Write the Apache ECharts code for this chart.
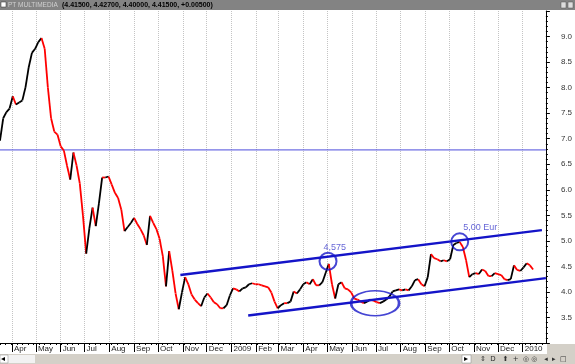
<!DOCTYPE html>
<html><head><meta charset="utf-8">
<script src="https://cdn.jsdelivr.net/npm/echarts@6/dist/echarts.min.js"></script>
<style>html,body{margin:0;padding:0;background:#fff}#c{width:575px;height:364px}</style>
</head><body><div id="c"></div>
<script>
// ---- data ----
const axisStart = '2008-03-17';
const axisEnd = '2010-01-30';
const sampleStart = '2008-03-17';
const sampleStepDays = 4;
const closes = [
 6.96, 7.40, 7.52, 7.59, 7.83, 7.67, 7.71, 7.75, 8.01, 8.40,
 8.68, 8.76, 8.89, 8.97, 8.76, 8.00, 7.40, 7.14, 7.08, 6.85,
 6.77, 6.47, 6.20, 6.73, 6.47, 6.12, 5.49, 4.75, 5.25, 5.65,
 5.29, 5.74, 6.24, 6.24, 6.26, 6.10, 5.94, 5.84, 5.61, 5.19,
 5.27, 5.35, 5.45, 5.33, 5.23, 5.11, 4.92, 5.49, 5.35, 5.23,
 5.04, 4.70, 4.11, 4.80, 4.41, 3.97, 3.66, 3.99, 4.29, 4.15,
 3.95, 3.85, 3.78, 3.72, 3.89, 3.97, 3.89, 3.80, 3.76, 3.68,
 3.68, 3.74, 3.93, 4.07, 4.05, 4.01, 4.07, 4.09, 4.15, 4.17,
 4.15, 4.15, 4.13, 4.11, 4.09, 3.99, 3.81, 3.68, 3.74, 3.78,
 3.78, 3.81, 4.01, 3.97, 4.05, 4.15, 4.19, 4.15, 4.25, 4.13,
 4.13, 4.19, 4.37, 4.55, 4.15, 3.87, 4.15, 4.19, 4.07, 4.05,
 3.99, 3.87, 3.85, 3.81, 3.78, 3.81, 3.85, 3.83, 3.80, 3.78,
 3.81, 3.85, 3.91, 4.01, 4.03, 4.05, 4.03, 4.05, 4.03, 4.11,
 4.23, 4.25, 4.15, 4.11, 4.29, 4.74, 4.66, 4.64, 4.60, 4.62,
 4.60, 4.64, 4.92, 4.96, 4.98, 4.88, 4.62, 4.29, 4.35, 4.37,
 4.35, 4.44, 4.41, 4.31, 4.31, 4.37, 4.35, 4.33, 4.25, 4.23,
 4.25, 4.52, 4.43, 4.41, 4.48, 4.56, 4.52, 4.44
];
const monthNames = ['Jan','Feb','Mar','Apr','May','Jun','Jul','Aug','Sep','Oct','Nov','Dec'];
const yMin = 3, yMax = 9.5, yStep = 0.5;
const resistanceLevel = 6.78;
const upperTrend = [['2008-10-29', 4.33], ['2010-01-25', 5.21]];
const lowerTrend = [['2009-01-22', 3.54], ['2010-01-30', 4.27]];
const circleMarks = [['2009-05-02', 4.60, '4,575'], ['2009-10-14', 4.98, '5,00 Eur']];
const ellipseMark = ['2009-06-30', 3.78];
const titleName = 'PT MULTIMEDIA';
const titleQuote = '(4.41500, 4.42700, 4.40000, 4.41500, +0.00500)';

// ---- helpers ----
const DAY = 86400000;
function toUTC(s){ const p = s.split('-').map(Number); return Date.UTC(p[0], p[1]-1, p[2]); }
const t0 = toUTC(axisStart);
function dayIndex(s){ return Math.round((toUTC(s) - t0) / DAY); }
const cats = [];
for (let t = t0; t <= toUTC(axisEnd); t += DAY) {
  const d = new Date(t);
  cats.push(d.getUTCFullYear() + '-' + String(d.getUTCMonth()+1).padStart(2,'0') + '-' + String(d.getUTCDate()).padStart(2,'0'));
}
const isMonthStart = (i, v) => v.slice(8) === '01';
const isWeekTick = (i, v) => new Date(toUTC(v)).getUTCDay() === 1 && v.slice(8) !== '01';
const off = dayIndex(sampleStart);
const priceData = closes.map((v, i) => [off + i*sampleStepDays, v,
  off + Math.max(0, i-1)*sampleStepDays, closes[Math.max(0, i-1)]]);

const FONT = 'Liberation Sans, Arial, sans-serif';
const chart = echarts.init(document.getElementById('c'), null, {renderer: 'canvas'});
chart.setOption({
  animation: false,
  backgroundColor: '#ffffff',
  grid: {left: 0, right: 29, top: 11, bottom: 21, containLabel: false},
  xAxis: [{
    type: 'category', data: cats, boundaryGap: false,
    axisLine: {show: true, lineStyle: {color: '#000', width: 1}},
    axisTick: {show: true, length: 9, interval: isMonthStart, lineStyle: {color: '#000'}},
    axisLabel: {show: true, interval: isMonthStart, hideOverlap: false,
      align: 'left', padding: [0,0,0,2], margin: 2, fontSize: 8, fontFamily: FONT, color: '#222',
      formatter: v => { const m = +v.slice(5,7); return m === 1 ? v.slice(0,4) : monthNames[m-1]; }},
    splitLine: {show: true, interval: isMonthStart, lineStyle: {color: '#c4c4c4', type: 'dotted', width: 1}}
  }, {
    type: 'category', data: cats, boundaryGap: false, position: 'bottom',
    axisLine: {show: false},
    axisTick: {show: true, length: 2, interval: isWeekTick, lineStyle: {color: '#000'}},
    axisLabel: {show: false}, splitLine: {show: false}
  }],
  yAxis: {
    type: 'value', position: 'right', min: yMin, max: yMax, interval: yStep,
    axisLine: {show: true, lineStyle: {color: '#000', width: 1}},
    axisTick: {show: true, length: 4, lineStyle: {color: '#000'}},
    minorTick: {show: true, splitNumber: 5, length: 2, lineStyle: {color: '#000'}},
    splitLine: {show: false},
    axisLabel: {margin: 15, fontSize: 8, fontFamily: FONT, color: '#333',
      formatter: v => (v <= yMin || v >= yMax) ? '' : v.toFixed(1)}
  },
  series: [
    {
      type: 'line', name: 'level', symbol: 'none', silent: true,
      data: [[0, resistanceLevel], [cats.length-1, resistanceLevel]],
      lineStyle: {color: '#4c4cdc', width: 1}, z: 2
    },
    {
      type: 'custom', name: 'price', xAxisIndex: 0,
      data: priceData, encode: {x: 0, y: 1},
      renderItem: function(params, api) {
        const p1 = api.coord([api.value(2), api.value(3)]);
        const p2 = api.coord([api.value(0), api.value(1)]);
        const up = api.value(1) > api.value(3);
        return {type: 'line', shape: {x1: p1[0], y1: p1[1], x2: p2[0], y2: p2[1]},
          style: {stroke: up ? '#000000' : '#ff0000', lineWidth: 1.8}};
      }, z: 3
    },
    {
      type: 'line', name: 'upper', symbol: 'none', silent: true,
      data: upperTrend.map(p => [dayIndex(p[0]), p[1]]),
      lineStyle: {color: '#1414c8', width: 2.5}, z: 4
    },
    {
      type: 'line', name: 'lower', symbol: 'none', silent: true,
      data: lowerTrend.map(p => [dayIndex(p[0]), p[1]]),
      lineStyle: {color: '#1414c8', width: 2.5}, z: 4
    },
    {
      type: 'scatter', name: 'circles', symbol: 'circle', symbolSize: 17, z: 5,
      itemStyle: {color: 'rgba(0,0,0,0)', borderColor: '#1616c8', borderWidth: 2},
      data: circleMarks.map((c, k) => ({value: [dayIndex(c[0]), c[1]],
        label: {show: true, formatter: c[2], position: k === 0 ? [5, -9] : [13, -9],
          color: '#3c3ccc', fontSize: 9, fontFamily: FONT}}))
    },
    {
      type: 'scatter', name: 'ellipse', symbol: 'circle', symbolSize: [48, 25], z: 5,
      itemStyle: {color: 'rgba(0,0,0,0)', borderColor: '#1616c8', borderWidth: 2},
      data: [[dayIndex(ellipseMark[0]), ellipseMark[1]]]
    }
  ],
  graphic: [
    {type: 'rect', shape: {x: 0, y: 0, width: 575, height: 10}, style: {fill: '#838383'}, z: 10},
    {type: 'rect', shape: {x: 1, y: 2, width: 5, height: 5}, style: {fill: '#fff', stroke: '#333', lineWidth: 0.5}, z: 11},
    {type: 'text', x: 8, y: 5, style: {text: titleName, fill: '#d0d0d0', font: '6.5px ' + FONT, verticalAlign: 'middle'}, z: 11},
    {type: 'text', x: 62, y: 5, style: {text: titleQuote, fill: '#000', font: 'bold 7px ' + FONT, verticalAlign: 'middle'}, z: 11},
    {type: 'rect', shape: {x: 561, y: 2, width: 5, height: 6}, style: {fill: '#ddd', stroke: '#555', lineWidth: 0.5}, z: 11},
    {type: 'rect', shape: {x: 568, y: 2, width: 5, height: 6}, style: {fill: '#ddd', stroke: '#555', lineWidth: 0.5}, z: 11},
    {type: 'rect', shape: {x: 547, y: 344, width: 28, height: 10}, style: {fill: '#d4d0c8'}, z: 10},
    {type: 'rect', shape: {x: 0, y: 354, width: 575, height: 10}, style: {fill: '#d4d0c8'}, z: 10},
    {type: 'rect', shape: {x: 8, y: 355, width: 27, height: 8}, style: {fill: '#f2f2f2'}, z: 11},
    {type: 'rect', shape: {x: 0, y: 355, width: 8, height: 8}, style: {fill: '#fff', stroke: '#888', lineWidth: 0.5}, z: 11},
    {type: 'text', x: 1, y: 359, style: {text: '◂', fill: '#000', font: '8px DejaVu Sans', verticalAlign: 'middle'}, z: 12},
    {type: 'rect', shape: {x: 462, y: 355, width: 9, height: 8}, style: {fill: '#fff', stroke: '#888', lineWidth: 0.5}, z: 11},
    {type: 'text', x: 464, y: 359, style: {text: '▸', fill: '#000', font: '8px DejaVu Sans', verticalAlign: 'middle'}, z: 12},
    {type: 'text', x: 480, y: 359, style: {text: '⇕  D   ⬆  +  ◎ ◎   ◂  ▸  □', fill: '#333', font: '7px DejaVu Sans', verticalAlign: 'middle'}, z: 12}
  ]
});
</script></body></html>
